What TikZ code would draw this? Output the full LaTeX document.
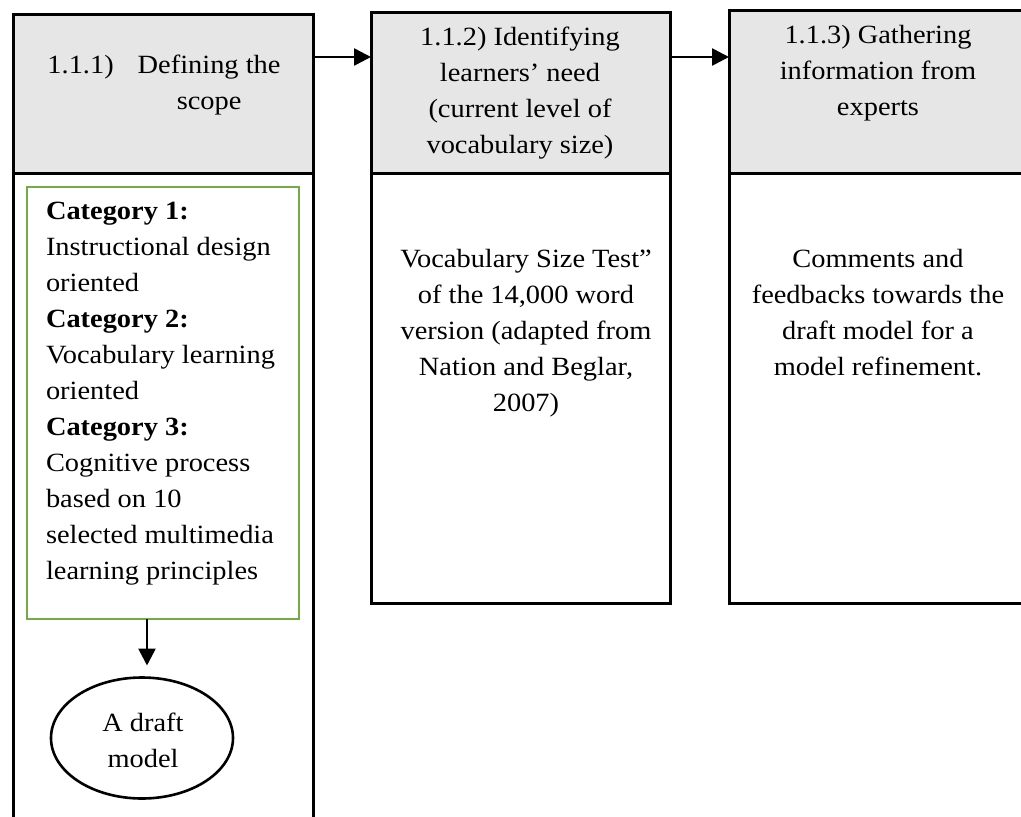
\documentclass[tikz,border=0pt]{standalone}
\usepackage{fontspec}
\setmainfont{Liberation Serif}[FakeStretch=1.08]
\usetikzlibrary{arrows.meta,shapes.geometric}
\definecolor{headfill}{HTML}{E6E6E6}
\definecolor{catgreen}{HTML}{70AD47}
\begin{document}
\begin{tikzpicture}[x=1pt,y=-1pt,
  every node/.style={inner sep=0pt,outer sep=0pt},
  txt/.style={font=\fontsize{26.3}{36}\selectfont,align=center},
  headbox/.style={draw=black,line width=3pt,fill=headfill,anchor=north west},
  bodybox/.style={draw=black,line width=3pt,fill=white,anchor=north west},
  arr/.style={line width=2.6pt,-{Triangle[length=17pt,width=17pt]}}]
\useasboundingbox (0,0) rectangle (1021,817);
\clip (0,0) rectangle (1021,817);
\fill[white] (0,0) rectangle (1021,817);

% column 1.1.1
\node[bodybox,minimum width=300pt,minimum height=680pt] (b1) at (13,173) {};
\node[headbox,minimum width=300pt,minimum height=159pt] (h1) at (13,14) {};
% column 1.1.2
\node[bodybox,minimum width=299pt,minimum height=430pt] (b2) at (371,173) {};
\node[headbox,minimum width=299pt,minimum height=161pt] (h2) at (371,12) {};
% column 1.1.3
\node[bodybox,minimum width=310pt,minimum height=430pt] (b3) at (729,173) {};
\node[headbox,minimum width=310pt,minimum height=163pt] (h3) at (729,10) {};

% header texts
\node[txt,anchor=center] (t1) at (164,84) {%
  \begin{tabular}{@{}l@{\hspace{24pt}}c@{}}1.1.1) & Defining the\\ & scope\end{tabular}};
\node[txt] (t2) at (520,93) {1.1.2) Identifying\\learners’ need\\(current level of\\vocabulary size)};
\node[txt] (t3) at (878,73) {1.1.3) Gathering\\information from\\experts};

% category box
\node[draw=catgreen,line width=2.6pt,anchor=north west,minimum width=272pt,minimum height=432pt] (g) at (27,187) {};
\node[txt,align=left,anchor=west] (gt) at (46,394) {%
  \textbf{Category 1:}\\Instructional design\\oriented\\
  \textbf{Category 2:}\\Vocabulary learning\\oriented\\
  \textbf{Category 3:}\\Cognitive process\\based on 10\\selected multimedia\\learning principles};

% draft model
\node[ellipse,draw=black,line width=2.6pt,minimum width=182pt,minimum height=121pt] (e) at (142,738) {};
\node[txt] (et) at (143,740) {A draft\\model};

% body texts
\node[txt] (bt2) at (526,333) {Vocabulary Size Test”\\of the 14,000 word\\version (adapted from\\Nation and Beglar,\\2007)};
\node[txt] (bt3) at (878,313) {Comments and\\feedbacks towards the\\draft model for a\\model refinement.};

% connectors
\coordinate (ay) at (0,57);
\coordinate (ax) at (147,0);
\draw[arr] (h1.east |- ay) -- (h2.west |- ay);
\draw[arr] (h2.east |- ay) -- (h3.west |- ay);
\draw[arr,shorten >=12pt] (g.south -| ax) -- (e.north -| ax);
\end{tikzpicture}
\end{document}
